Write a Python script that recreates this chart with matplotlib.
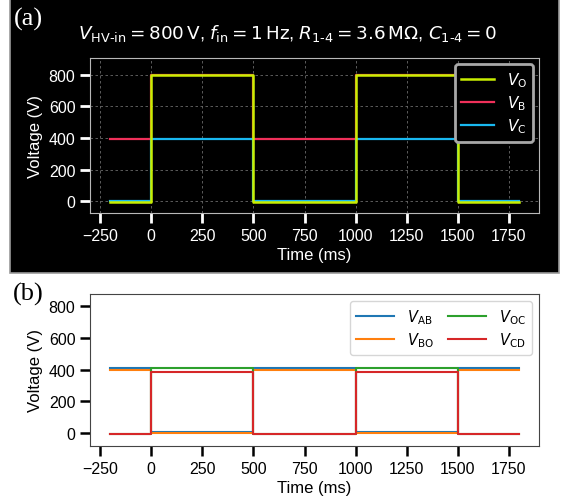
import matplotlib
matplotlib.use("Agg")
import matplotlib.pyplot as plt
from matplotlib.patches import Rectangle

plt.rcParams['mathtext.fontset'] = 'dejavusans'
plt.rcParams['font.family'] = ['Liberation Sans', 'DejaVu Sans']

# step edges (ms) and level on each segment (V)
edges = [-200, 0, 500, 1000, 1500, 1800]
V_O = [-3, 797, -3, 797, -3]
V_B = [390, 795, 390, 795, 390]
V_C = [-1, 390, -1, 390, -1]

V_AB = [408, 6, 408, 6, 408]
V_BO = [398, -1, 398, -1, 398]
V_OC = [-3, 408, -3, 408, -3]
V_CD = [-4, 388, -4, 388, -4]

xticks = [-250, 0, 250, 500, 750, 1000, 1250, 1500, 1750]
yticks = [0, 200, 400, 600, 800]

W, H = 562, 502
fig = plt.figure(figsize=(W / 100, H / 100), dpi=100)

# black background for panel (a)
bg = fig.add_axes([0, 0, 1, 1], zorder=-10)
bg.set_axis_off()
bg.set_xlim(0, 1)
bg.set_ylim(0, 1)
bg.add_patch(Rectangle((10 / W, 1 - 274 / H), 549 / W, 274 / H + 0.01,
                       facecolor='black', edgecolor='#9a9a9a', linewidth=1.2))

def ax_rect(l, t, r, b):
    return [l / W, 1 - b / H, (r - l) / W, (b - t) / H]

def st(vals):
    return list(vals) + [vals[-1]]

# ---------- panel (a)
ax1 = fig.add_axes(ax_rect(90, 59, 539, 214))
ax1.set_facecolor('black')
ax1.plot(edges, st(V_C), drawstyle='steps-post', color='#19b8f0', lw=1.6, label=r'$V_{\mathrm{C}}$', zorder=3)
ax1.plot(edges, st(V_B), drawstyle='steps-post', color='#f0305a', lw=1.6, label=r'$V_{\mathrm{B}}$', zorder=2)
ax1.plot(edges, st(V_O), drawstyle='steps-post', color='#c8ee00', lw=1.8, label=r'$V_{\mathrm{O}}$', zorder=4)
ax1.set_xlim(-300, 1897)
ax1.set_ylim(-75, 905)
ax1.set_xticks(xticks)
ax1.set_yticks(yticks)
ax1.grid(True, color='#6a6a6a', linestyle=(0, (3, 3)), linewidth=0.6)
for s in ax1.spines.values():
    s.set_color('#b8b8b8')
ax1.tick_params(colors='white', labelsize=11.5, length=7, width=2)
ax1.set_xlabel('Time (ms)', color='white', fontsize=12, labelpad=3)
ax1.set_ylabel('Voltage (V)', color='white', fontsize=12, labelpad=4)
h, l = ax1.get_legend_handles_labels()
leg = ax1.legend([h[2], h[1], h[0]], [l[2], l[1], l[0]], loc='upper right',
                 fontsize=11, facecolor='black', edgecolor='#a8a8a8',
                 framealpha=1, fancybox=True, borderpad=0.4, labelspacing=0.3,
                 handlelength=2.2, handletextpad=0.8, borderaxespad=0.4)
leg.get_frame().set_linewidth(2)
for t in leg.get_texts():
    t.set_color('white')

fig.text(288 / W, 1 - 34 / H,
         r'$V_{\mathrm{HV\text{-}in}} = 800\,\mathrm{V}$, $f_{\mathrm{in}} = 1\,\mathrm{Hz}$, '
         r'$R_{\mathrm{1\text{-}4}} = 3.6\,\mathrm{M\Omega}$, $C_{\mathrm{1\text{-}4}} = 0$',
         color='white', fontsize=13.2, ha='center', va='center')
fig.text(14 / W, 1 - 19 / H, '(a)', color='white', fontsize=19,
         family='Liberation Serif', ha='left', va='center')

# ---------- panel (b)
ax2 = fig.add_axes(ax_rect(90, 295, 539, 447))
ax2.plot(edges, st(V_AB), drawstyle='steps-post', color='#1f77b4', lw=1.5, label=r'$V_{\mathrm{AB}}$')
ax2.plot(edges, st(V_BO), drawstyle='steps-post', color='#ff7f0e', lw=1.5, label=r'$V_{\mathrm{BO}}$')
ax2.plot(edges, st(V_OC), drawstyle='steps-post', color='#2ca02c', lw=1.5, label=r'$V_{\mathrm{OC}}$')
ax2.plot(edges, st(V_CD), drawstyle='steps-post', color='#d62728', lw=1.5, label=r'$V_{\mathrm{CD}}$')
ax2.set_xlim(-300, 1897)
ax2.set_ylim(-80, 875)
ax2.set_xticks(xticks)
ax2.set_yticks(yticks)
for s in ax2.spines.values():
    s.set_color('#444444')
ax2.tick_params(labelsize=11.5, length=7, width=1.8)
ax2.set_xlabel('Time (ms)', fontsize=12, labelpad=3)
ax2.set_ylabel('Voltage (V)', fontsize=12, labelpad=4)
ax2.legend(loc='upper right', ncol=2, fontsize=10.5, columnspacing=1.0,
           handlelength=2.6, handletextpad=0.9, labelspacing=0.3)
fig.text(13 / W, 1 - 294 / H, '(b)', color='black', fontsize=19,
         family='Liberation Serif', ha='left', va='center')

fig.savefig('out.png', dpi=100)
